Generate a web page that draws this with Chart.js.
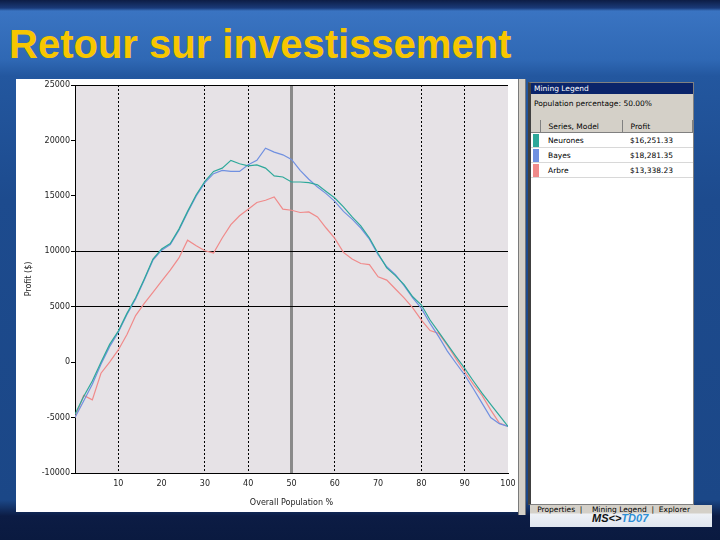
<!DOCTYPE html>
<html>
<head>
<meta charset="utf-8">
<script src="https://cdn.jsdelivr.net/npm/chart.js@4"></script>
<style>
	body{margin:0;width:720px;height:540px;overflow:hidden;position:relative;font-family:"DejaVu Sans",sans-serif;
		background:linear-gradient(to bottom,#0d1d45 0,#1a3a78 8px,#3a74c2 11px,#2f68b4 60px,#23579f 76px,#1d4b8e 200px,#1b4787 500px,#0c1c44 516px,#0a1a40 540px);}
	h1{position:absolute;left:9px;top:22px;margin:0;font:bold 40px "Liberation Sans",Arial,sans-serif;color:#f7c600;line-height:44px;letter-spacing:0;}
	.panneau{position:absolute;left:16px;top:79px;width:502px;height:433px;background:#fff;}
	#graphique{position:absolute;left:16px;top:79px;}
	.separateur{position:absolute;left:518px;top:79px;width:6px;height:436px;background:#d4d0c8;border-left:1px solid #7a7a7a;border-right:1px solid #7a7a7a;}
	.legende{position:absolute;left:528px;top:82px;width:162px;height:421px;background:#fff;border:1px solid #808080;border-left:3px solid #404040;font-size:7.5px;color:#000;}
	.legende .barre{height:11px;background:#0a246a;color:#fff;padding-left:3px;line-height:11px;}
	.legende .pop{height:26px;background:#d4d0c8;padding-left:3px;line-height:20px;}
	.legende table{border-collapse:collapse;width:100%;}
	.legende th{background:#d4d0c8;font-weight:normal;text-align:left;height:12px;border-right:1px solid #808080;border-bottom:1px solid #808080;padding:0 0 0 8px;}
	.legende td{height:14px;border-bottom:1px solid #d8d8d8;padding:0 0 0 8px;}
	.legende td.coul{padding:0;width:9px;}
	.onglets{position:absolute;left:530px;top:505px;width:182px;height:22px;background:linear-gradient(to bottom,#d4d0c8 0,#d4d0c8 8px,#eef1f6 9px,#dfe5ee 22px);font-size:7.5px;line-height:9px;color:#000;}
	.logo{position:absolute;left:592px;top:512px;font:italic bold 11px "Liberation Sans",sans-serif;color:#111;}
	.logo span{color:#2d8fd6;}
</style>
</head>
<body>
<h1>Retour sur investissement</h1>
<div class="panneau"></div>
<canvas id="graphique" width="502" height="433"></canvas>
<div class="separateur"></div>
<div class="legende">
	<div class="barre">Mining Legend</div>
	<div class="pop">Population percentage: 50.00%</div>
	<table id="tableLegende"></table>
</div>
<div class="onglets">&nbsp;&nbsp;&nbsp;Properties &nbsp;|&nbsp;&nbsp;&nbsp; Mining Legend &nbsp;|&nbsp; Explorer</div>
<div class="logo">MS&lt;&gt;<span>TD07</span></div>
<script>
// Population (%) en abscisse
const populationPct = [0, 2, 4, 6, 8, 10, 12, 14, 16, 18, 20, 22, 24, 26, 28, 30, 32, 34, 36, 38, 40, 42, 44, 46, 48, 50,
	52, 54, 56, 58, 60, 62, 64, 66, 68, 70, 72, 74, 76, 78, 80, 82, 84, 86, 88, 90, 92, 94, 96, 98, 100];
// Profit ($) par modele
const profitNeurones = [-4700, -3100, -1700, 0, 1600, 2800, 4400, 5800, 7500, 9300, 10200, 10700, 12000, 13600, 15100, 16300,
	17200, 17500, 18200, 17900, 17700, 17800, 17500, 16800, 16700, 16250, 16250, 16200, 16000, 15400, 14800, 14000, 13100,
	12300, 11200, 9800, 8500, 7800, 7000, 5900, 5150, 3800, 2700, 1600, 500, -560, -1700, -2800, -3800, -4800, -5800];
const profitBayes = [-5000, -3500, -2000, -200, 1400, 2700, 4300, 5700, 7400, 9200, 10100, 10600, 11900, 13500, 15000, 16200,
	17000, 17300, 17200, 17200, 17800, 18200, 19300, 18950, 18700, 18280, 17300, 16500, 15800, 15200, 14500, 13600, 12900,
	12100, 11100, 9700, 8600, 7900, 6900, 5800, 4850, 3500, 2300, 1000, -100, -1160, -2400, -3700, -5000, -5550, -5800];
const profitArbre = [-5000, -3000, -3400, -1000, 0, 1100, 2500, 4200, 5300, 6300, 7300, 8300, 9400, 11000, 10500, 10050,
	9850, 11200, 12400, 13200, 13800, 14400, 14600, 14900, 13800, 13700, 13500, 13550, 13100, 12100, 11160, 9900, 9300,
	8900, 8800, 7700, 7400, 6600, 5800, 4900, 3800, 2850, 2600, 1500, 300, -870, -2000, -3000, -4300, -5500, -5800];

const nomsSeries = ["Neurones", "Bayes", "Arbre"];
const valeursSeries = [profitNeurones, profitBayes, profitArbre];
const couleursSeries = ["#2ea89a", "#7090e0", "#f08a8a"];
const profitsLegende = ["$16,251.33", "$18,281.35", "$13,338.23"];

// lignes verticales pointillees et curseur
const lignesPointillees = [10, 30, 40, 60, 80, 90];
const curseur = 50;
const lignesHorizontales = [25000, 10000, 5000];

// tableau de la legende
let html = "<tr><th style=\"width:3px;padding:0\"></th><th>Series, Model</th><th>Profit</th></tr>";
for (let i = 0; i < nomsSeries.length; i++)
	html += `<tr><td class="coul"><div style="margin-left:2px;width:6px;height:13px;background:${couleursSeries[i]}"></div></td><td>${nomsSeries[i]}</td><td>${profitsLegende[i]}</td></tr>`;
document.querySelector("#tableLegende").innerHTML = html;

// fond gris de la zone de trace
const fondZone = {
	id: "fondZone",
	beforeDraw(chart){
		const a = chart.chartArea;
		chart.ctx.save();
		chart.ctx.fillStyle = "#e6e2e6";
		chart.ctx.fillRect(a.left, a.top, a.right - a.left, a.bottom - a.top);
		chart.ctx.restore();
	}
};

const police = {family: "DejaVu Sans", size: 8};

const data = {
	datasets: nomsSeries.map((nom, i) => ({
		label: nom,
		data: populationPct.map((x, j) => ({x: x, y: valeursSeries[i][j]})),
		borderColor: couleursSeries[i],
		borderWidth: 1.2,
		pointRadius: 0,
		tension: 0
	}))
};

const config = {
	type: "line",
	data: data,
	options: {
		responsive: false,
		animation: false,
		layout: {padding: {top: 6, right: 10, left: 0, bottom: 0}},
		plugins: {legend: {display: false}, tooltip: {enabled: false}},
		scales: {
			x: {
				type: "linear",
				min: 0,
				max: 100,
				ticks: {stepSize: 10, color: "#222", font: police, padding: 2,
					callback: v => v === 0 ? "" : String(v)},
				grid: {
					color: c => c.tick.value === curseur ? "#8a8a8a" : (lignesPointillees.includes(c.tick.value) ? "#000" : "rgba(0,0,0,0)"),
					lineWidth: c => c.tick.value === curseur ? 3 : 1,
					tickLength: 4,
					tickColor: "rgba(0,0,0,0)"
				},
				border: {color: "#000", width: 1,
					dash: c => (c.tick && lignesPointillees.includes(c.tick.value)) ? [2, 2] : []},
				title: {display: true, text: "Overall Population %", color: "#222", font: police, padding: {top: 6}},
				afterFit: s => { s.height = 39; }
			},
			y: {
				min: -10000,
				max: 25000,
				ticks: {stepSize: 5000, color: "#222", font: police, padding: 1,
					callback: v => String(v)},
				grid: {
					color: c => lignesHorizontales.includes(c.tick.value) ? "#000" : "rgba(0,0,0,0)",
					tickLength: 4,
					tickColor: "#000"
				},
				border: {color: "#000", width: 1},
				title: {display: true, text: "Profit ($)", color: "#222", font: police, padding: {top: 8}},
				afterFit: s => { s.width = 59; }
			}
		}
	},
	plugins: [fondZone]
};

new Chart(document.querySelector("#graphique"), config);
</script>
</body>
</html>
